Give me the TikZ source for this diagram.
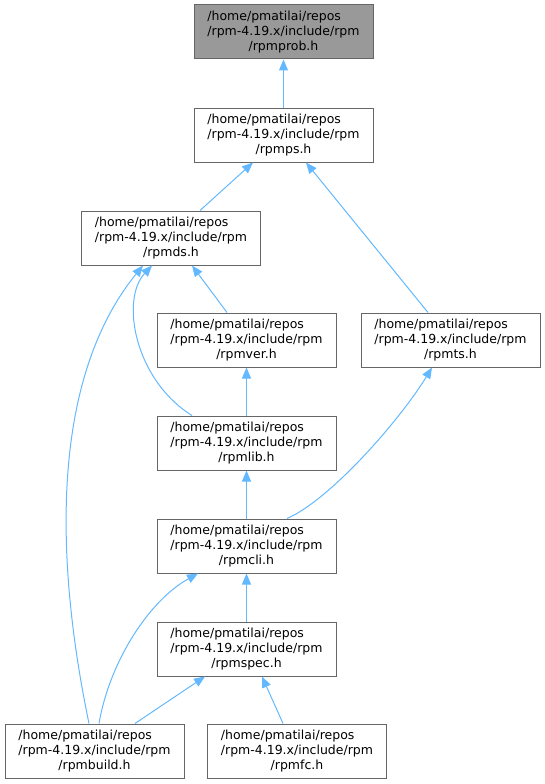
\documentclass[tikz,border=0pt]{standalone}
\usepackage{fontspec}
\setmainfont{DejaVu Sans}
\usetikzlibrary{arrows.meta}
\definecolor{edgeblue}{HTML}{63B8FF}
\definecolor{boxgray}{HTML}{666666}
\definecolor{topfill}{HTML}{999999}
\newcommand{\incfile}[1]{\rlap{/home/pmatilai/repos}\phantom{/rpm-4.19.x/include/rpm}\\/rpm-4.19.x/include/rpm\\/#1}

\begin{document}
\begin{tikzpicture}[x=1pt, y=-1pt,
    header/.style={rectangle, draw=boxgray, fill=white, line width=1pt, minimum width=179pt, minimum height=54pt, inner sep=0pt, align=center, font=\fontsize{12.5}{15}\selectfont},
    dep/.style={draw=edgeblue, line width=1pt, -{Triangle[length=11pt, width=9pt]}}
]
    \useasboundingbox (0,0) rectangle (544,784);

    \node[header, fill=topfill] (prob) at (283.5, 32) {\incfile{rpmprob.h}};
    \node[header] (ps) at (283.5, 135) {\incfile{rpmps.h}};
    \node[header] (ds) at (171, 238) {\incfile{rpmds.h}};
    \node[header] (ver) at (246.5, 340) {\incfile{rpmver.h}};
    \node[header] (ts) at (450.5, 340) {\incfile{rpmts.h}};
    \node[header] (lib) at (246.5, 443) {\incfile{rpmlib.h}};
    \node[header] (cli) at (246.5, 546) {\incfile{rpmcli.h}};
    \node[header] (spec) at (246.5, 649) {\incfile{rpmspec.h}};
    \node[header] (build) at (94.5, 751) {\incfile{rpmbuild.h}};
    \node[header] (fc) at (297, 751) {\incfile{rpmfc.h}};

    \draw[dep] (ps) -- (prob);
    \draw[dep] ([xshift=29pt]ds.north) -- ([xshift=-30.5pt]ps.south);
    \draw[dep] ([xshift=-22.5pt]ts.north) -- ([xshift=22.5pt]ps.south);
    \draw[dep] ([xshift=-19.5pt]ver.north) -- ([xshift=21pt]ds.south);
    \draw[dep] ([xshift=-54.5pt]lib.north) .. controls (135,380) and (120,300) .. ([xshift=-19pt]ds.south);
    \draw[dep] ([xshift=-5.5pt]build.north) .. controls (55,560) and (50,380) .. ([xshift=-28pt]ds.south);
    \draw[dep] (lib) -- (ver);
    \draw[dep] (cli) -- (lib);
    \draw[dep] ([xshift=40.5pt]cli.north) .. controls (330,500) and (400,420) .. ([xshift=-18.5pt]ts.south);
    \draw[dep] (spec) -- (cli);
    \draw[dep] ([xshift=4.5pt]build.north) .. controls (110,660) and (150,600) .. ([xshift=-48.5pt]cli.south);
    \draw[dep] ([xshift=40.5pt]build.north) -- ([xshift=-41.5pt]spec.south);
    \draw[dep] ([xshift=-14pt]fc.north) -- ([xshift=15.5pt]spec.south);
\end{tikzpicture}
\end{document}
